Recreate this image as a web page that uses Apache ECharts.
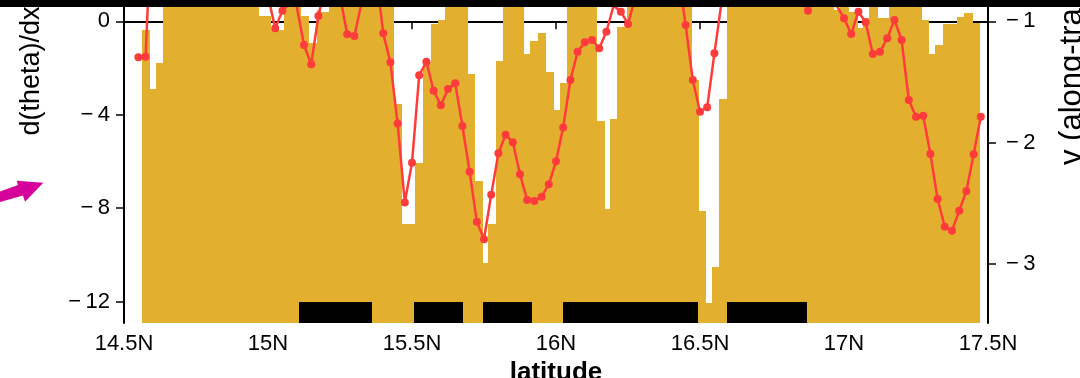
<!DOCTYPE html>
<html><head><meta charset="utf-8">
<script src="https://cdn.jsdelivr.net/npm/echarts@6/dist/echarts.min.js"></script>
<style>html,body{margin:0;padding:0;background:#fff;overflow:hidden}#c{width:1080px;height:378px}</style>
</head><body><div id="c"></div>
<script>
// ---------- data ----------
const xTicks = [14.5, 15, 15.5, 16, 16.5, 17, 17.5];
const xTickLabels = ['14.5N', '15N', '15.5N', '16N', '16.5N', '17N', '17.5N'];
const leftTicks = [0, -4, -8, -12];
const rightTicks = [-1, -2, -3];

// d(theta)/dx bars: bar k spans barEdges[k]..barEdges[k+1]
const barEdges = [14.5608, 14.5920, 14.6101, 14.6365, 14.9688, 15.0104, 15.0556, 15.1135, 15.1424, 15.1701,
  15.1840, 15.2118, 15.4375, 15.4663, 15.5104, 15.5372, 15.5649, 15.5892, 15.6146, 15.6955,
  15.7188, 15.7455, 15.7628, 15.7917, 15.8170, 15.8899, 15.9097, 15.9365, 15.9653, 15.9931,
  16.0139, 16.0372, 16.1434, 16.1701, 16.1875, 16.2108, 16.2455, 16.4712, 16.4955, 16.5208,
  16.5417, 16.5649, 16.5927, 16.9663, 16.9861, 17.0184, 17.0476, 17.0649, 17.0878, 17.1170,
  17.1573, 17.2708, 17.2962, 17.3170, 17.3427, 17.3913, 17.4177, 17.4469, 17.4722];
const barValues = [-0.37, -2.90, -1.79, 1.0, 0.23, -0.37, 1.0, 0.23, -0.93, 0.48,
  0.40, 1.0, -3.54, -8.68, -6.06, -1.74, -0.13, 0.06, 1.0, -2.26,
  -6.84, -10.34, -8.68, -1.69, 1.0, -1.41, -0.84, -0.49, -2.16, -3.80,
  -2.63, 1.0, -4.25, -8.03, -4.19, -0.23, 1.0, -2.51, -8.12, -12.06,
  -10.52, -3.33, 1.0, 0.48, 1.0, 0.40, -0.29, 0.14, 1.0, 0.14,
  1.0, 0.06, -1.40, -1.01, -0.12, 0.18, 0.36, -0.07];

// v (along-track) line
const vLat = [14.550, 14.575, 14.600, 14.625, 14.650, 14.675, 14.700, 14.725, 14.750, 14.775,
  14.800, 14.825, 14.850, 14.875, 14.900, 14.925, 14.950, 14.975, 15.000, 15.025,
  15.050, 15.075, 15.100, 15.125, 15.150, 15.175, 15.200, 15.225, 15.250, 15.275,
  15.300, 15.325, 15.350, 15.375, 15.400, 15.425, 15.450, 15.475, 15.500, 15.525,
  15.550, 15.575, 15.600, 15.625, 15.650, 15.675, 15.700, 15.725, 15.750, 15.775,
  15.800, 15.825, 15.850, 15.875, 15.900, 15.925, 15.950, 15.975, 16.000, 16.025,
  16.050, 16.075, 16.100, 16.125, 16.150, 16.175, 16.200, 16.225, 16.250, 16.275,
  16.300, 16.325, 16.350, 16.375, 16.400, 16.425, 16.450, 16.475, 16.500, 16.525,
  16.550, 16.575, 16.600, 16.625, 16.650, 16.675, 16.700, 16.725, 16.750, 16.775,
  16.800, 16.825, 16.850, 16.875, 16.900, 16.925, 16.950, 16.975, 17.000, 17.025,
  17.050, 17.075, 17.100, 17.125, 17.150, 17.175, 17.200, 17.225, 17.250, 17.275,
  17.300, 17.325, 17.350, 17.375, 17.400, 17.425, 17.450, 17.475];
const vValues = [-1.297, -1.292, 0.10, -0.30, -0.40, -0.40, -0.50, -0.50, -0.50, -0.50,
  -0.50, -0.50, -0.50, -0.50, -0.60, -0.60, -0.60, -0.70, -0.79, -1.058,
  -0.913, -0.85, -0.88, -1.195, -1.354, -0.956, -0.70, -0.70, -0.79, -1.107,
  -1.121, -0.846, -0.70, -0.58, -1.099, -1.338, -1.841, -2.492, -2.165, -1.445,
  -1.333, -1.572, -1.692, -1.558, -1.511, -1.863, -2.239, -2.651, -2.796, -2.429,
  -2.088, -1.934, -1.997, -2.261, -2.473, -2.481, -2.445, -2.343, -2.154, -1.874,
  -1.484, -1.251, -1.173, -1.154, -1.222, -1.086, -0.87, -0.921, -1.022, -0.805,
  -0.60, -0.50, -0.50, -0.50, -0.60, -0.61, -1.03, -1.484, -1.745, -1.709,
  -1.264, -0.84, -0.70, -0.60, -0.60, -0.60, -0.60, -0.60, -0.60, -0.60,
  -0.60, -0.60, -0.80, -0.913, -0.80, -0.75, -0.80, -0.87, -0.975, -1.105,
  -0.921, -1.008, -1.269, -1.251, -1.14, -0.989, -1.154, -1.649, -1.786, -1.778,
  -2.094, -2.464, -2.693, -2.726, -2.561, -2.398, -2.096, -1.786];

// black boxes along the bottom (latitude ranges)
const boxStart = [15.109, 15.507, 15.745, 16.025, 16.593];
const boxEnd   = [15.360, 15.676, 15.916, 16.494, 16.873];
const boxTop = -12;

// ---------- chart ----------
const LEFT_MIN = -12.912, LEFT_MAX = 0.612;
const RIGHT_MIN = -3.486, RIGHT_MAX = -0.882;
const GOLD = '#e3af2f';
const RED = '#ff3b3b';
const FONT = 'Liberation Sans';

const minusFmt = v => (v < 0 ? '\u2212\u2009' + Math.abs(v) : String(v));

const chart = echarts.init(document.getElementById('c'), null, {renderer: 'canvas'});

function rectItem(params, api, x0, x1, yLow, yHigh, fill) {
  const p0 = api.coord([x0, yLow]);
  const p1 = api.coord([x1, yHigh]);
  const xa = Math.round(p0[0]), xb = Math.round(p1[0]);
  const ya = Math.round(p1[1]), yb = Math.round(p0[1]);
  const shape = echarts.graphic.clipRectByRect(
    {x: xa, y: ya, width: xb - xa, height: yb - ya}, params.coordSys);
  if (!shape) return null;
  return {type: 'rect', shape: shape, style: {fill: fill}};
}

const option = {
  animation: false,
  backgroundColor: '#fff',
  grid: {left: 124, right: 92, top: 7, bottom: 55, containLabel: false, outerBoundsMode: 'none'},
  xAxis: {
    type: 'value', min: 14.5, max: 17.5, interval: 0.5,
    axisLine: {show: true, lineStyle: {color: '#000', width: 2}},
    axisTick: {show: true, inside: false, length: 8, lineStyle: {color: '#000', width: 1.5}},
    axisLabel: {
      color: '#000', fontSize: 22, fontFamily: FONT, margin: 10,
      formatter: v => { const k = xTicks.findIndex(t => Math.abs(t - v) < 1e-6); return k >= 0 ? xTickLabels[k] : ''; }
    },
    splitLine: {show: false},
    name: 'latitude', nameLocation: 'middle', nameGap: 31,
    nameTextStyle: {color: '#000', fontSize: 26, fontWeight: 'bold', fontFamily: FONT}
  },
  yAxis: [{
    type: 'value', position: 'left', min: LEFT_MIN, max: LEFT_MAX,
    axisLine: {show: true, onZero: false, lineStyle: {color: '#000', width: 2}},
    axisTick: {show: true, length: 8, customValues: leftTicks, lineStyle: {color: '#000', width: 1.5}},
    axisLabel: {color: '#000', fontSize: 22, fontFamily: FONT, margin: 14, customValues: leftTicks, formatter: minusFmt},
    splitLine: {show: false}
  }, {
    type: 'value', position: 'right', min: RIGHT_MIN, max: RIGHT_MAX,
    axisLine: {show: true, onZero: false, lineStyle: {color: '#000', width: 2}},
    axisTick: {show: true, length: 8, customValues: rightTicks, lineStyle: {color: '#000', width: 1.5}},
    axisLabel: {color: '#000', fontSize: 22, fontFamily: FONT, margin: 18, customValues: rightTicks, formatter: minusFmt},
    splitLine: {show: false}
  }],
  series: [{
    type: 'custom', name: 'd(theta)/dx', yAxisIndex: 0,
    data: barValues.map((v, k) => [barEdges[k], barEdges[k + 1], v]),
    encode: {x: [0, 1], y: 2},
    renderItem: (params, api) => rectItem(params, api, api.value(0), api.value(1), LEFT_MIN, api.value(2), GOLD),
    z: 1
  }, {
    type: 'custom', name: 'boxes', yAxisIndex: 0,
    data: boxStart.map((s, k) => [s, boxEnd[k], boxTop]),
    encode: {x: [0, 1], y: 2},
    renderItem: (params, api) => rectItem(params, api, api.value(0), api.value(1), LEFT_MIN, api.value(2), '#000'),
    z: 2
  }, {
    type: 'line', name: 'v', yAxisIndex: 1,
    data: vLat.map((x, k) => [x, vValues[k]]),
    clip: true, showSymbol: true, showAllSymbol: true,
    symbol: 'circle', symbolSize: 8,
    itemStyle: {color: RED},
    lineStyle: {color: RED, width: 2.5},
    z: 3
  }],
  graphic: [
    {type: 'rect', left: 0, top: 0, shape: {width: 1080, height: 7}, style: {fill: '#000'}, z: 100},
    {type: 'text', x: 32, y: 71, rotation: Math.PI / 2,
     style: {text: 'd(theta)/dx', fill: '#000', font: '27px "Liberation Sans"', textAlign: 'center', textVerticalAlign: 'middle'}},
    {type: 'text', x: 1072, y: 165, rotation: Math.PI / 2,
     style: {text: 'v (along-track)', fill: '#000', font: '31px "Liberation Sans"', textAlign: 'left', textVerticalAlign: 'middle'}},
    {type: 'polygon', shape: {points: [[0, 191.5], [18, 185], [16.7, 180.7], [43.3, 182.7], [25, 201.7], [23, 195.5], [0, 202]]},
     style: {fill: '#d6009b'}}
  ]
};
chart.setOption(option);
</script>
</body></html>
